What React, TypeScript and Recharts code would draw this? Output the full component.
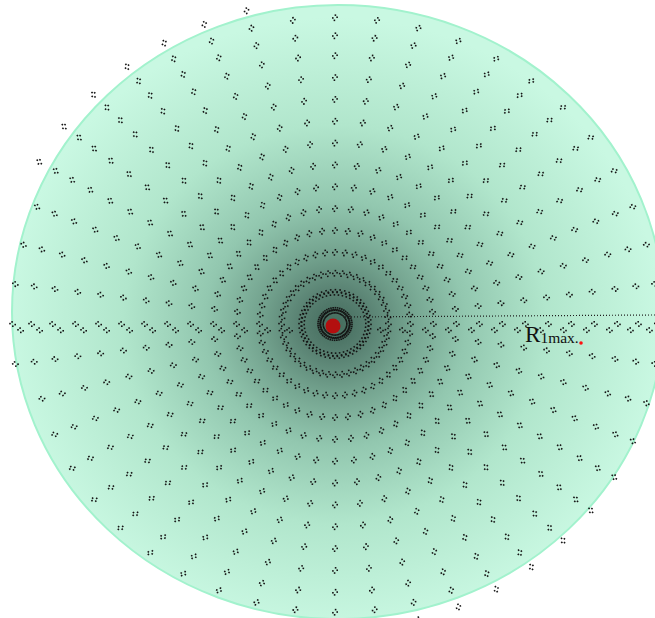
import { ScatterChart, Scatter, XAxis, YAxis, ReferenceArea, ReferenceLine, ReferenceDot } from "recharts";

// ring radii of the point lattice (data units ≈ px horizontally)
const RING_RADII = [14, 33, 53, 75, 98, 121, 144, 167, 190, 213, 236, 259, 282, 303, 322];
// number of spokes per ring
const SPOKES = 48;
// outermost ring only shows up on the top-left arc (degrees)
const OUTER_ARC = { r: 341, from: 105, to: 150 };
// stretches of a ring where no glyphs are drawn (degrees)
const RING_GAPS = [{ r: 322, from: 195, to: 255 }];
// doubled glyphs along the horizontal axis: pulled in by dr, pushed down by dy
const SEAM_SHIFT = { dr: 8, dy: -6.5 };
// disc extent and centre marker
const DISC = { x1: -323, x2: 329, y1: -310.6, y2: 335.8 };
const CENTER = [{ x: -2, y: -2.1 }];
const R_LINE = [
  { x: 10, y: 7.4 },
  { x: 320, y: 9.5 },
];
const R_MARK = { x: 246, y: -20 };

const toRad = (d: number) => (d * Math.PI) / 180;
const SPOKE_DEG = Array.from({ length: SPOKES }, (_, k) => (k * 360) / SPOKES);

const inGap = (r: number, deg: number) => RING_GAPS.some((g) => g.r === r && deg >= g.from && deg <= g.to);

const lattice = RING_RADII.flatMap((r) =>
  SPOKE_DEG.filter((deg) => !inGap(r, deg)).map((deg) => ({
    x: r * Math.cos(toRad(deg)),
    y: r * Math.sin(toRad(deg)),
    deg,
  }))
);

const outer = SPOKE_DEG.filter((deg) => deg >= OUTER_ARC.from && deg <= OUTER_ARC.to).map((deg) => ({
  x: OUTER_ARC.r * Math.cos(toRad(deg)),
  y: OUTER_ARC.r * Math.sin(toRad(deg)),
  deg,
}));

const seam = RING_RADII.filter((r) => r > 40).flatMap((r) => [
  { x: r - SEAM_SHIFT.dr, y: SEAM_SHIFT.dy, deg: 0 },
  { x: -(r - SEAM_SHIFT.dr), y: SEAM_SHIFT.dy, deg: 180 },
]);

function Glyph(props: any) {
  const { cx, cy, payload } = props;
  if (cx == null || cy == null) return null;
  const rot = -(payload?.deg ?? 0);
  return (
    <g transform={`translate(${cx},${cy}) rotate(${rot})`} fill="#141414">
      <rect x={-3} y={-1.4} width={1.6} height={1.6} />
      <rect x={-0.6} y={-3} width={1.6} height={1.6} />
      <rect x={0.1} y={1.3} width={1.6} height={1.6} />
      <rect x={2.2} y={-0.4} width={1.6} height={1.6} />
    </g>
  );
}

function CenterDot(props: any) {
  const { cx, cy } = props;
  if (cx == null || cy == null) return null;
  return <circle cx={cx} cy={cy} r={7.5} fill="#b30f0f" />;
}

function Disc(props: any) {
  const { x, y, width, height } = props;
  return (
    <ellipse
      cx={x + width / 2}
      cy={y + height / 2}
      rx={Math.abs(width) / 2}
      ry={Math.abs(height) / 2}
      fill="url(#discGrad)"
      stroke="#a2f2cd"
      strokeWidth={2}
    />
  );
}

function RLabel(props: any) {
  const vb = props.viewBox || {};
  const x = (vb.x ?? 0) - 0.5;
  const y = (vb.y ?? 0) + 0.5;
  return (
    <text x={x} y={y} textAnchor="end" fill="#111" fontFamily="'Liberation Serif', 'DejaVu Serif', serif">
      <tspan fontSize={23}>R</tspan>
      <tspan fontSize={15.5} dy={1}>1max.</tspan>
    </text>
  );
}

export default function App() {
  return (
    <div style={{ position: "absolute", left: 0, top: 0, width: 655, height: 618, background: "#fff" }}>
      <ScatterChart width={655} height={618} margin={{ top: 0, right: 0, bottom: 0, left: 0 }}>
        <defs>
          <radialGradient id="discGrad" cx="0.495" cy="0.52" r="0.5">
            <stop offset="0%" stopColor="#436b5c" />
            <stop offset="10%" stopColor="#577f70" />
            <stop offset="22%" stopColor="#71a08c" />
            <stop offset="40%" stopColor="#92c7af" />
            <stop offset="65%" stopColor="#b1e6cc" />
            <stop offset="100%" stopColor="#c9f8e2" />
          </radialGradient>
        </defs>
        <XAxis type="number" dataKey="x" domain={[-335, 320]} hide allowDataOverflow />
        <YAxis type="number" dataKey="y" domain={[-309.5, 341.1]} hide allowDataOverflow />
        <ReferenceArea x1={DISC.x1} x2={DISC.x2} y1={DISC.y1} y2={DISC.y2} ifOverflow="visible" shape={Disc} />
        <ReferenceLine segment={R_LINE} stroke="#1e1e1e" strokeWidth={1.2} strokeDasharray="1 2" ifOverflow="visible" />
        <Scatter data={lattice} shape={Glyph} isAnimationActive={false} />
        <Scatter data={outer} shape={Glyph} isAnimationActive={false} />
        <Scatter data={seam} shape={Glyph} isAnimationActive={false} />
        <Scatter data={CENTER} shape={CenterDot} isAnimationActive={false} />
        <ReferenceDot x={R_MARK.x} y={R_MARK.y} r={1.8} fill="#ff1010" stroke="none" ifOverflow="visible" label={RLabel} />
      </ScatterChart>
    </div>
  );
}
